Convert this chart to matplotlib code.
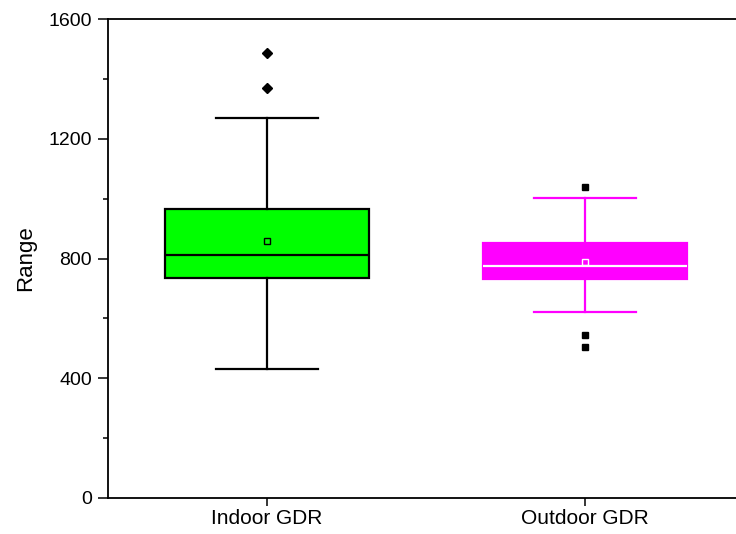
import matplotlib
matplotlib.use("Agg")
import matplotlib.pyplot as plt
from matplotlib.ticker import MultipleLocator

plt.rcParams['font.family'] = ['Liberation Sans', 'DejaVu Sans']

# summary statistics for each group
groups = ["Indoor GDR", "Outdoor GDR"]
q1 = [736, 732]
median = [812, 774]
q3 = [965, 852]
mean = [858, 789]
whislo = [430, 621]
whishi = [1269, 1003]
outliers = [[1370, 1485], [505, 543, 1040]]

face_colors = ["#00ff00", "#ff00ff"]
edge_colors = ["black", "#ff00ff"]
median_colors = ["black", "white"]
flier_markers = ["D", "s"]
flier_sizes = [4.8, 4.6]

fig = plt.figure(figsize=(7.36, 5.34), dpi=100)
# right edge of the frame runs past the canvas
ax = fig.add_axes([108 / 736, 36 / 534, 636 / 736, 479 / 534])

for i in range(len(groups)):
    stats = [{
        "label": groups[i],
        "q1": q1[i], "med": median[i], "q3": q3[i], "mean": mean[i],
        "whislo": whislo[i], "whishi": whishi[i], "fliers": outliers[i],
    }]
    ec = edge_colors[i]
    ax.bxp(stats, positions=[i + 1], widths=0.64, patch_artist=True,
           showmeans=True, manage_ticks=False,
           boxprops=dict(facecolor=face_colors[i], edgecolor=ec, linewidth=1.6),
           medianprops=dict(color=median_colors[i], linewidth=1.6),
           whiskerprops=dict(color=ec, linewidth=1.6),
           capprops=dict(color=ec, linewidth=1.6),
           capwidths=0.32,
           meanprops=dict(marker="s", markersize=4.5, markerfacecolor="none",
                          markeredgecolor=median_colors[i], markeredgewidth=1.0),
           flierprops=dict(marker=flier_markers[i], markersize=flier_sizes[i],
                           markerfacecolor="black", markeredgecolor="black"))

ax.set_xlim(0.5, 2.5)
ax.set_ylim(0, 1600)
ax.set_xticks([1, 2])
ax.set_xticklabels(groups, fontsize=15)
ax.yaxis.set_major_locator(MultipleLocator(400))
ax.yaxis.set_minor_locator(MultipleLocator(200))
ax.tick_params(axis="y", which="major", direction="out", length=7.5, width=1.1,
               labelsize=14, pad=4)
ax.tick_params(axis="y", which="minor", direction="out", length=3.5, width=1.1)
ax.tick_params(axis="x", which="major", direction="out", length=6, width=1.1, pad=2)
ax.set_ylabel("Range", fontsize=16, labelpad=9)

for side in ["left", "bottom", "top"]:
    ax.spines[side].set_linewidth(1.3)
ax.spines["right"].set_visible(False)

fig.savefig("out.png", dpi=100)
